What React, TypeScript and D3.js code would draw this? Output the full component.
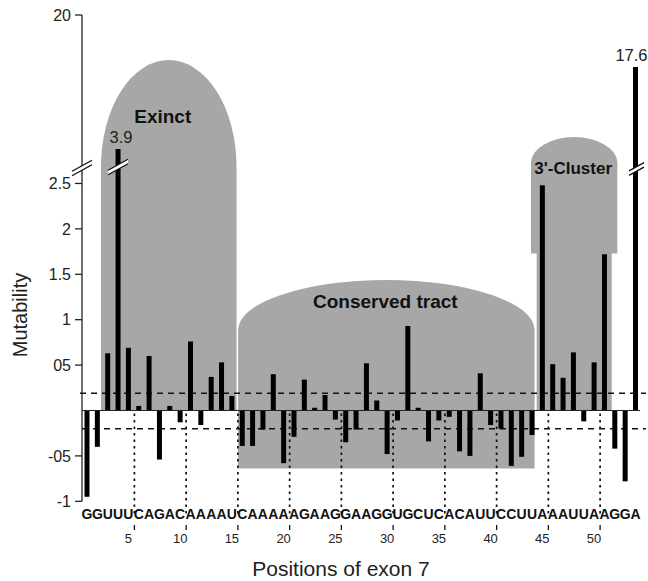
import React from "react";
import * as d3 from "d3";

const sequence = "GGUUUCAGACAAAAUCAAAAAGAAGGAAGGUGCUCACAUUCCUUAAAUUAAGGA".split("");
const positions = d3.range(1, 55);
const mutability = [
  -0.95, -0.40, 0.63, 3.9, 0.69, 0.05, 0.60, -0.54, 0.05, -0.13,
  0.76, -0.16, 0.37, 0.53, 0.16, -0.39, -0.39, -0.21, 0.40, -0.58,
  -0.29, 0.34, 0.03, 0.17, -0.10, -0.35, -0.21, 0.52, 0.11, -0.48,
  -0.11, 0.93, 0.03, -0.34, -0.11, -0.07, -0.45, -0.50, 0.41, -0.16,
  -0.20, -0.61, -0.51, -0.27, 2.48, 0.51, 0.36, 0.64, -0.12, 0.53,
  1.72, -0.42, -0.78, 17.6,
];
const yTickValues = [-1, -0.5, 0.5, 1, 1.5, 2, 2.5, 20];
const yTickLabels = ["-1", "-05", "05", "1", "1.5", "2", "2.5", "20"];
const xTickValues = [5, 10, 15, 20, 25, 30, 35, 40, 45, 50];
const dottedPositions = [6, 11, 16, 21, 26, 31, 36, 41, 46, 51];
const thresholds = [0.19, -0.2];
const labeledBars = [4, 54];
const regionNames = ["Exinct", "Conserved tract", "3'-Cluster"];

const FONT = "'Liberation Sans', Arial, Helvetica, sans-serif";
const GRAY = "#a7a7a7";

export default function App() {
  const x = d3.scaleLinear().domain([1, 54]).range([87, 635.5]);
  const y = d3
    .scaleLinear()
    .domain([-1, 2.7, 3.9, 17.6, 20])
    .range([501.3, 165.3, 149, 67, 15]);
  const y0 = y(0);
  const axisX = 82;
  const breakY = 166;
  const barW = 5;

  const exL = x(2.35), exR = x(15.45);
  const exCx = (exL + exR) / 2, exRx = (exR - exL) / 2;
  const exinctPath = `M${exL},${y0} L${exL},167 A${exRx},107 0 0 1 ${exR},167 L${exR},${y0} Z`;

  const coL = x(15.6), coR = x(44.25);
  const coRx = (coR - coL) / 2, coCx = (coL + coR) / 2;
  const coBottom = y(-0.64);
  const conservedPath = `M${coL},${coBottom} L${coL},330 A${coRx},50 0 0 1 ${coR},330 L${coR},${coBottom} Z`;

  const clL = x(43.9), clR = x(52.25), clnL = x(44.45), clnR = x(51.7);
  const clCx = (clL + clR) / 2, clRx = (clR - clL) / 2;
  const clNarrowTop = y(1.73);
  const clusterPath = `M${clnL},${y0} L${clnL},${clNarrowTop} L${clL},${clNarrowTop} L${clL},163 A${clRx},26 0 0 1 ${clR},163 L${clR},${clNarrowTop} L${clnR},${clNarrowTop} L${clnR},${y0} Z`;

  const breakMark = (cx: number, cy: number, hw: number, key: string) => {
    const dy = hw * 0.55;
    const g = 2.2;
    return (
      <g key={key}>
        <polygon
          points={`${cx - hw},${cy + dy - g} ${cx + hw},${cy - dy - g} ${cx + hw},${cy - dy + g} ${cx - hw},${cy + dy + g}`}
          fill="#fff"
        />
        <line x1={cx - hw} y1={cy + dy - g} x2={cx + hw} y2={cy - dy - g} stroke="#111" strokeWidth={1.3} />
        <line x1={cx - hw} y1={cy + dy + g} x2={cx + hw} y2={cy - dy + g} stroke="#111" strokeWidth={1.3} />
      </g>
    );
  };

  return (
    <svg
      width={648}
      height={581}
      style={{ position: "absolute", left: 0, top: 0, background: "#fff" }}
      fontFamily={FONT}
    >
      <rect x={0} y={0} width={648} height={581} fill="#fff" />
      <path d={exinctPath} fill={GRAY} />
      <path d={conservedPath} fill={GRAY} />
      <path d={clusterPath} fill={GRAY} />

      {dottedPositions.map((p) => (
        <line
          key={"d" + p}
          x1={x(p - 0.42)}
          x2={x(p - 0.42)}
          y1={y0 + 3}
          y2={514}
          stroke="#111"
          strokeWidth={1.7}
          strokeDasharray="2.5,4"
        />
      ))}

      {thresholds.map((t, i) => (
        <line
          key={"t" + i}
          x1={axisX + (i === 0 ? -2 : 0)}
          x2={646}
          y1={y(t)}
          y2={y(t)}
          stroke="#111"
          strokeWidth={1.5}
          strokeDasharray="6,5"
        />
      ))}

      {mutability.map((v, i) => {
        const p = positions[i];
        const top = Math.min(y(v), y0);
        const h = Math.abs(y(v) - y0);
        return <rect key={"b" + p} x={x(p) - barW / 2} y={top} width={barW} height={h} fill="#000" />;
      })}

      <line x1={axisX} x2={640} y1={y0} y2={y0} stroke="#222" strokeWidth={1} />

      <line x1={axisX} x2={axisX} y1={y(20)} y2={y(-1)} stroke="#222" strokeWidth={1.3} />
      {yTickValues.map((v, i) => (
        <g key={"yt" + i}>
          <line x1={axisX - 7} x2={axisX} y1={y(v)} y2={y(v)} stroke="#222" strokeWidth={1.3} />
          <text x={71} y={y(v)} dy="0.36em" textAnchor="end" fontSize={16} fill="#222">
            {yTickLabels[i]}
          </text>
        </g>
      ))}

      {breakMark(axisX, breakY + 2, 10, "ba")}
      {breakMark(x(labeledBars[0]), breakY + 1, 10, "b1")}
      {breakMark(x(labeledBars[1]) + 1, breakY + 3, 7.5, "b2")}

      {labeledBars.map((p) => {
        const v = mutability[p - 1];
        return (
          <text
            key={"vl" + p}
            x={x(p) + (p === 54 ? -4 : 3)}
            y={y(v) - 6}
            textAnchor="middle"
            fontSize={16.5}
            fill="#222"
          >
            {String(v)}
          </text>
        );
      })}

      <text x={exCx - 6} y={123} textAnchor="middle" fontSize={19} fontWeight="bold" fill="#111">
        {regionNames[0]}
      </text>
      <text x={coCx - 1} y={308} textAnchor="middle" fontSize={19} fontWeight="bold" fill="#111">
        {regionNames[1]}
      </text>
      <text x={clCx - 1} y={174} textAnchor="middle" fontSize={17} fontWeight="bold" fill="#111">
        {regionNames[2]}
      </text>

      {sequence.map((s, i) => (
        <text
          key={"s" + i}
          x={x(positions[i])}
          y={519}
          textAnchor="middle"
          fontSize={14}
          fontWeight="bold"
          fill="#111"
        >
          {s}
        </text>
      ))}

      {dottedPositions.map((p) => (
        <line key={"m" + p} x1={x(p - 0.42)} x2={x(p - 0.42)} y1={525} y2={530} stroke="#111" strokeWidth={1.3} />
      ))}

      {xTickValues.map((p) => (
        <text key={"xt" + p} x={x(p)} y={543} textAnchor="middle" fontSize={13} fill="#222">
          {p}
        </text>
      ))}

      <text x={341} y={576} textAnchor="middle" fontSize={21} fill="#222">
        Positions of exon 7
      </text>
      <text
        transform={`translate(27,315) rotate(-90)`}
        textAnchor="middle"
        fontSize={20}
        fill="#222"
      >
        Mutability
      </text>
    </svg>
  );
}
